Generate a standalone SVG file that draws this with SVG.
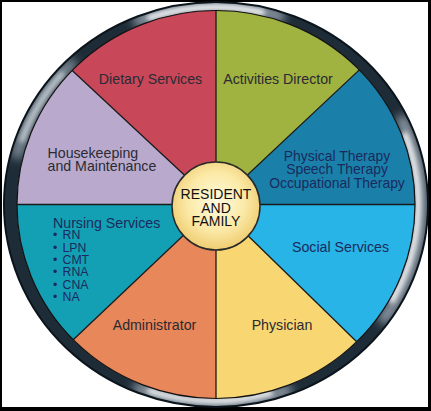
<svg xmlns="http://www.w3.org/2000/svg" width="431" height="411" viewBox="0 0 431 411">
<defs>
<style>
text{font-family:"Liberation Sans",Arial,sans-serif;font-size:14.2px;}
.c{text-anchor:middle;}
.dk{fill:#2b2a33;}
.nv{fill:#1b2a5c;}
.li{font-size:12.3px;}
.pt{font-size:13.9px;}
.sec{stroke:none;}
.div{stroke:#1a1a1a;stroke-width:1.3;fill:none;}
.hl{fill:none;stroke-linecap:round;}
</style>
<radialGradient id="hub" cx="50%" cy="45%" r="55%">
<stop offset="0" stop-color="#fffbe0"/>
<stop offset="0.6" stop-color="#fbe9a6"/>
<stop offset="1" stop-color="#efcc72"/>
</radialGradient>
<clipPath id="ringClip">
<path clip-rule="evenodd" d="M4 204.5A212 202.5 0 1 0 428 204.5A212 202.5 0 1 0 4 204.5ZM17 204.5A199 194 0 1 0 415 204.5A199 194 0 1 0 17 204.5Z"/>
</clipPath>
<filter id="blur" x="-20%" y="-20%" width="140%" height="140%"><feGaussianBlur stdDeviation="2.5"/></filter>
<filter id="blur2" x="-20%" y="-20%" width="140%" height="140%"><feGaussianBlur stdDeviation="5"/></filter>
</defs>
<rect x="0" y="0" width="431" height="411" fill="#000"/>
<rect x="2" y="2" width="426" height="405" fill="#fff"/>

<g id="ring">
<path fill="#1e2c38" fill-rule="evenodd" d="M4 204.5A212 202.5 0 1 0 428 204.5A212 202.5 0 1 0 4 204.5ZM17 204.5A199 194 0 1 0 415 204.5A199 194 0 1 0 17 204.5Z"/>
<g clip-path="url(#ringClip)">
<g filter="url(#blur2)">
<path class="hl" stroke="#8e9aa5" stroke-width="12" d="M139 20.9A205.5 198 0 0 1 279.5 16.2"/>
<path class="hl" stroke="#7d8a96" stroke-width="12" d="M17.5 153.3A205.5 198 0 0 1 70.7 64.5"/>
<path class="hl" stroke="#8e9aa5" stroke-width="12" d="M402.2 120.8A205.5 198 0 0 1 384.3 318.1"/>
<path class="hl" stroke="#8e9aa5" stroke-width="12" d="M286.3 390.6A205.5 198 0 0 1 139 388.1"/>
</g>
<g filter="url(#blur)">
<path class="hl" stroke="#f4f6f8" stroke-width="6" d="M150 17.5A205.5 198 0 0 1 262 12.5"/>
<path class="hl" stroke="#c9d0d6" stroke-width="5" d="M22 140A205.5 198 0 0 1 62 74"/>
<path class="hl" stroke="#f6f7f8" stroke-width="6" d="M405 135A205.5 198 0 0 1 392 300"/>
<path class="hl" stroke="#eef0f2" stroke-width="6" d="M270 393A205.5 198 0 0 1 150 391"/>
</g>
</g>
<ellipse cx="216" cy="204.5" rx="212" ry="202.5" fill="none" stroke="#0b141b" stroke-width="2"/>
</g>

<g id="dietary">
<path class="sec" fill="#c8485a" d="M216 204.5L72.2 70.4A199 194 0 0 1 216 10.5Z"/>
<text class="c dk" x="150.5" y="84">Dietary Services</text>
</g>
<g id="activities">
<path class="sec" fill="#a0b240" d="M216 204.5L216 10.5A199 194 0 0 1 359.3 69.9Z"/>
<text class="c dk" x="278" y="84">Activities Director</text>
</g>
<g id="therapy">
<path class="sec" fill="#1a80aa" d="M216 204.5L359.3 69.9A199 194 0 0 1 415 204.5Z"/>
<text class="c nv pt" x="337" y="160.5">Physical Therapy</text>
<text class="c nv pt" x="337" y="174.3">Speech Therapy</text>
<text class="c nv pt" x="337" y="188">Occupational Therapy</text>
</g>
<g id="social">
<path class="sec" fill="#28b4e6" d="M216 204.5L415 204.5A199 194 0 0 1 356.7 341.7Z"/>
<text class="c nv" x="340.5" y="252">Social Services</text>
</g>
<g id="physician">
<path class="sec" fill="#f8d773" d="M216 204.5L356.7 341.7A199 194 0 0 1 216 398.5Z"/>
<text class="c dk" x="282" y="329.5">Physician</text>
</g>
<g id="administrator">
<path class="sec" fill="#e8875a" d="M216 204.5L216 398.5A199 194 0 0 1 73.2 339.7Z"/>
<text class="c dk" x="154.5" y="330">Administrator</text>
</g>
<g id="nursing">
<path class="sec" fill="#14a0b4" d="M216 204.5L73.2 339.7A199 194 0 0 1 17 204.5Z"/>
<text class="nv" x="53" y="228">Nursing Services</text>
<text class="nv li" x="53" y="239.3">•<tspan x="62.5">RN</tspan></text>
<text class="nv li" x="53" y="251.7">•<tspan x="62.5">LPN</tspan></text>
<text class="nv li" x="53" y="264">•<tspan x="62.5">CMT</tspan></text>
<text class="nv li" x="53" y="276.3">•<tspan x="62.5">RNA</tspan></text>
<text class="nv li" x="53" y="288.6">•<tspan x="62.5">CNA</tspan></text>
<text class="nv li" x="53" y="301">•<tspan x="62.5">NA</tspan></text>
</g>
<g id="housekeeping">
<path class="sec" fill="#b9aacd" d="M216 204.5L17 204.5A199 194 0 0 1 72.2 70.4Z"/>
<text class="dk" x="47.5" y="157.5">Housekeeping</text>
<text class="dk" x="47.5" y="170.5">and Maintenance</text>
</g>

<g id="connectors">
<path class="div" d="M216 204.5L216 10.5M216 204.5L359.3 69.9M216 204.5L415 204.5M216 204.5L356.7 341.7M216 204.5L216 398.5M216 204.5L73.2 339.7M216 204.5L17 204.5M216 204.5L72.2 70.4"/>
<ellipse cx="216" cy="204.5" rx="199" ry="194" fill="none" stroke="#111" stroke-width="1.2"/>
</g>

<g id="resident">
<circle cx="216" cy="206" r="44" fill="url(#hub)" stroke="#2a2a2a" stroke-width="1.5"/>
<text class="c" fill="#111" x="216" y="198.5" style="font-size:14px">RESIDENT</text>
<text class="c" fill="#111" x="216" y="212.5" style="font-size:14px">AND</text>
<text class="c" fill="#111" x="216" y="226.3" style="font-size:14px">FAMILY</text>
</g>
</svg>
